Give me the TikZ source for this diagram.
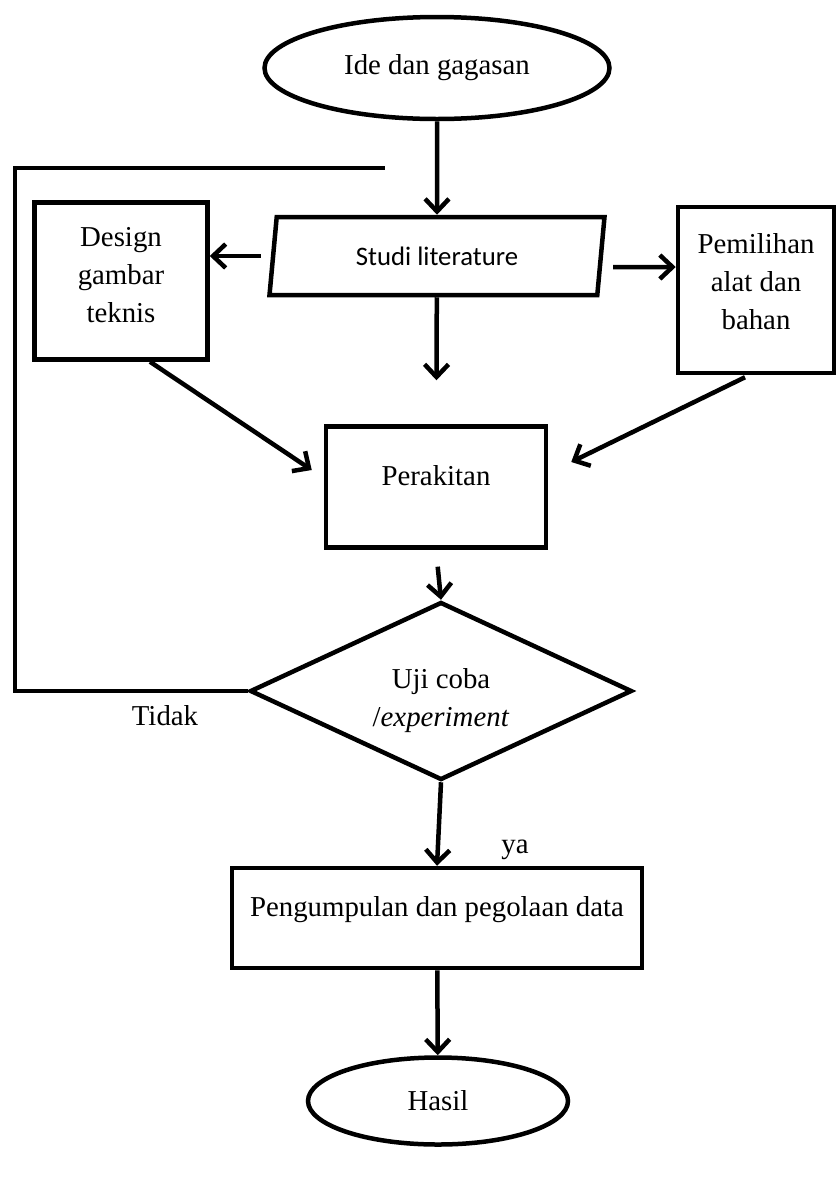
\documentclass[tikz,border=0pt]{standalone}
\usepackage{fontspec}
\setmainfont{Liberation Serif}
\newfontfamily\calibri{Carlito}
\usetikzlibrary{shapes.geometric,arrows.meta}
\newlength\pix
\setlength\pix{0.025cm}

\begin{document}
\begin{tikzpicture}[x=\pix, y=-\pix, line width=3.2pt,
  every node/.style={font=\fontsize{20.5}{27}\selectfont, align=center},
  box/.style={draw, rectangle, inner sep=0pt},
  oval/.style={draw, ellipse, inner sep=0pt},
  arr/.style={-{Straight Barb[length=9pt,width=17pt]}}]

\useasboundingbox (0,0) rectangle (836,1179);

%% flow from top to bottom
\node[oval, minimum width=345*\pix, minimum height=102*\pix] (ide) at (437,68) {Ide dan gagasan};
\node[draw, trapezium, trapezium left angle=75.6, trapezium right angle=104.4,
  trapezium stretches body, minimum width=335*\pix, minimum height=78*\pix,
  font=\calibri\fontsize{19}{23}\selectfont] (lit) at (437,256) {Studi literature};
\node[box, minimum width=173*\pix, minimum height=157*\pix,
  label={[yshift=6*\pix]center:Design\\gambar\\teknis}] (desain) at (121,281) {};
\node[box, minimum width=156*\pix, minimum height=166*\pix,
  label={[yshift=8*\pix]center:Pemilihan\\alat dan\\bahan}] (pilih) at (756,290) {};
\node[box, minimum width=220*\pix, minimum height=121*\pix,
  label={[yshift=11*\pix]center:Perakitan}] (rakit) at (436,487) {};
\node[draw, diamond, aspect=2.15, inner sep=0pt, minimum width=382*\pix, minimum height=178*\pix,
  label={[yshift=-10*\pix]center:Uji coba\\/\textit{experiment}}] (uji) at (441,691) {};
\node[box, minimum width=410*\pix, minimum height=100*\pix,
  label={[yshift=8*\pix]center:Pengumpulan dan pegolaan data}] (olah) at (437,918) {};
\node[oval, minimum width=260*\pix, minimum height=87*\pix] (hasil) at (438,1101) {Hasil};

\node (tidak) at (165,716) {Tidak};
\node (ya) at (515,850) {ya};

\coordinate (sudut) at (15,168);
\coordinate (balik) at (385,168);

%% connectors
\draw[arr] (ide) -- (lit);
\draw[arr] ([xshift=-10*\pix]lit.west) -- (desain.east |- lit.west);
\draw[arr] ([xshift=10*\pix,yshift=-11*\pix]lit.east) -- ([yshift=23*\pix]pilih.west);
\draw[arr, shorten >=44*\pix] (lit) -- (rakit);
\draw[arr] ([xshift=29*\pix]desain.south) -- ([xshift=-12*\pix,yshift=17*\pix]rakit.west);
\draw[arr] ([xshift=-11*\pix,yshift=-2*\pix]pilih.south) -- ([xshift=23*\pix,yshift=25*\pix]rakit.east);
\draw[arr, shorten <=17*\pix] (rakit.south) -- (uji.north);
\draw[arr] (uji.south) -- (olah.north);
\draw[arr] (olah) -- (hasil);
\draw (uji.west) -| (sudut) -- (balik); %% back to studi literature

\end{tikzpicture}
\end{document}
